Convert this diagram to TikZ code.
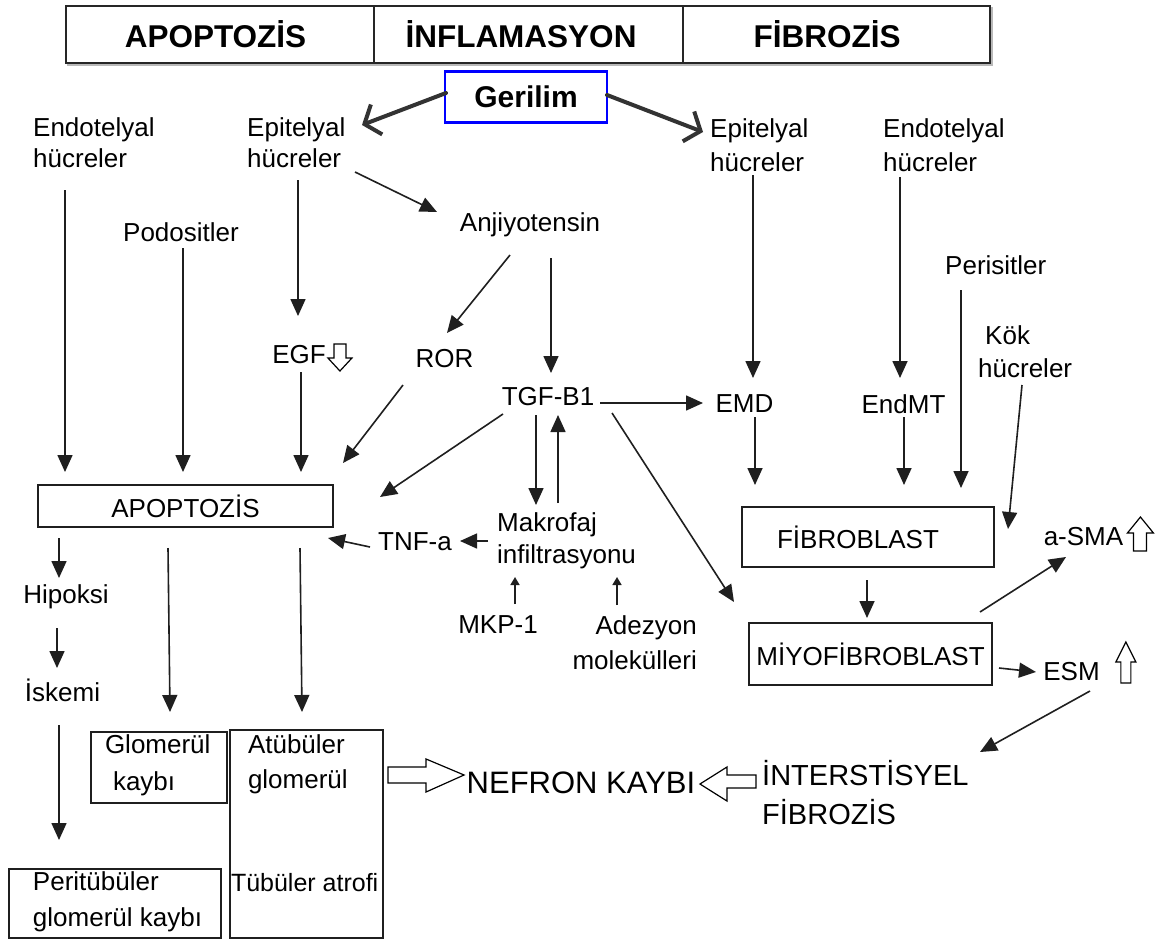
\documentclass[tikz,border=0pt]{standalone}
\usepackage{fontspec}
\setmainfont{Liberation Sans}
\usetikzlibrary{arrows.meta}
\begin{document}
\begin{tikzpicture}[x=1pt,y=-1pt,
  txt/.style={inner sep=0pt, font=\fontsize{26}{31}\selectfont},
  arr/.style={draw=black!88, line width=1.6pt, -{Triangle[length=17pt,width=15pt]}},
  sarr/.style={draw=black!88, line width=1.6pt, -{Triangle[length=8pt,width=9pt]}},
  garr/.style={draw=black!80, line width=4pt, line cap=round, -{Straight Barb[length=13pt,width=32pt,line width=4pt]}},
  hdr/.style={draw=black!85, fill=white, line width=2pt, minimum height=57pt, inner sep=0pt, font=\fontsize{31.5}{36}\selectfont\bfseries},
  box/.style={draw=black!88, line width=1.6pt, inner sep=0pt},
  hol/.style={draw=black, line width=1.2pt, fill=white, line join=miter}
]
\useasboundingbox (0,0) rectangle (1170,943);
\fill[white] (0,0) rectangle (1170,943);

% header
\draw[gray!55, line width=2.5pt] (68,8) rectangle (992,65);
\node[hdr, minimum width=308pt] (hA) at (220,34.5) {\hspace*{-9pt}APOPTOZİS};
\node[hdr, minimum width=309pt] (hI) at (528.5,34.5) {\hspace*{-15pt}İNFLAMASYON};
\node[hdr, minimum width=307pt] (hF) at (836.5,34.5) {\hspace*{-19pt}FİBROZİS};

% Gerilim
\node[draw=blue, line width=2.5pt, minimum width=162pt, minimum height=51pt, inner sep=0pt,
      font=\fontsize{30}{34}\selectfont\bfseries] (gerilim) at (526,97) {Gerilim};

% left side text nodes
\node[txt, anchor=west, align=left] (endoL) at (33,142.5) {Endotelyal\\hücreler};
\node[txt, anchor=west, align=left] (epiL) at (247,142.5) {Epitelyal\\hücreler};
\node[txt] (podo) at (181,232) {Podositler};
\node[txt] (egf) at (299,355) {EGF};
\node[txt] (anj) at (530,225) {Anjiyotensin};
\node[txt] (ror) at (444.5,359) {ROR};
\node[txt] (tgf) at (548,397) {TGF-B1};
\node[txt, anchor=west, align=left, font=\fontsize{26}{32}\selectfont] (mak) at (497,541) {Makrofaj\\infiltrasyonu};
\node[txt] (tnf) at (415,542) {TNF-a};
\node[txt] (mkp) at (498,625) {MKP-1};
\node[txt, anchor=east, align=right, font=\fontsize{26}{35}\selectfont] (adez) at (697,643) {Adezyon\\molekülleri};

\node[box, txt, minimum width=295pt, minimum height=42pt] (apop) at (185.5,506) {APOPTOZİS};
\node[txt] (hip) at (66,597) {Hipoksi};
\node[txt] (isk) at (62.5,690) {İskemi};

\node[box] (glom) at (159,767.5) {\begin{minipage}[c][71pt][t]{136pt}\fontsize{26}{37}\selectfont\vspace*{3pt}\hspace*{14pt}Glomerül\\\hspace*{22pt}kaybı\end{minipage}};
\node[box] (atub) at (306.5,834) {\begin{minipage}[c][208pt][t]{153pt}\fontsize{26}{35}\selectfont\vspace*{5pt}\hspace*{18pt}Atübüler\\\hspace*{18pt}glomerül\\[68pt]\fontsize{25}{35}\selectfont\hspace*{1pt}Tübüler atrofi\end{minipage}};
\node[box] (peri) at (115,903.5) {\begin{minipage}[c][69pt][t]{212pt}\fontsize{26}{36}\selectfont\vspace*{3pt}\hspace*{24pt}Peritübüler\\\hspace*{24pt}glomerül kaybı\end{minipage}};

% right side
\node[txt, anchor=west, align=left, font=\fontsize{26}{34}\selectfont] (epiR) at (710,145) {Epitelyal\\hücreler};
\node[txt, anchor=west, align=left, font=\fontsize{26}{34}\selectfont] (endoR) at (883,145) {Endotelyal\\hücreler};
\node[txt, anchor=west] (perisit) at (945,265) {Perisitler};
\node[txt, anchor=west, align=left, font=\fontsize{26}{33}\selectfont] (kok) at (978,351.5) {\hspace*{7pt}Kök\\hücreler};
\node[txt] (emd) at (744.5,404) {EMD};
\node[txt] (endmt) at (903.5,404) {EndMT};
\node[box, txt, minimum width=252pt, minimum height=60pt] (fib) at (868,537) {\hspace*{-20pt}FİBROBLAST};
\node[box, txt, minimum width=243pt, minimum height=62pt] (miyo) at (870.5,654) {MİYOFİBROBLAST};
\node[txt] (asma) at (1083.5,537) {a-SMA};
\node[txt] (esm) at (1071.5,672) {ESM};
\node[txt, anchor=west, align=left, font=\fontsize{29}{39}\selectfont] (inter) at (762,792.5) {İNTERSTİSYEL\\FİBROZİS};
\node[txt, font=\fontsize{31}{36}\selectfont] (nefron) at (581,783) {NEFRON KAYBI};

% hollow small arrows
\begin{scope}[shift={(egf.east)}]
\draw[hol] (8,-11) -- (20,-11) -- (20,3) -- (26,3) -- (14,16) -- (2,3) -- (8,3) -- cycle;
\end{scope}
\begin{scope}[shift={(asma.east)}]
\draw[hol] (10,14) -- (10,-4) -- (4,-4) -- (17,-20) -- (30,-4) -- (23,-4) -- (23,14) -- cycle;
\end{scope}
\begin{scope}[shift={(esm.east)}]
\draw[hol] (21,11) -- (21,-10) -- (16,-10) -- (26,-30) -- (36,-10) -- (31,-10) -- (31,11) -- cycle;
\end{scope}
% hollow block arrows to NEFRON KAYBI
\begin{scope}[shift={(nefron.west)}]
\draw[hol] (-78.5,-16) -- (-40.5,-16) -- (-40.5,-24) -- (-2.5,-8) -- (-40.5,9) -- (-40.5,0) -- (-78.5,0) -- cycle;
\end{scope}
\begin{scope}[shift={(nefron.east)}]
\draw[hol] (4.5,1) -- (31.5,-16) -- (31.5,-8) -- (60.5,-8) -- (60.5,5) -- (31.5,5) -- (31.5,18) -- cycle;
\end{scope}

% Gerilim arrows
\draw[garr] ([shift={(-80,-4)}]gerilim.center) -- ([shift={(115,-17.5)}]epiL.west);
\draw[garr] ([shift={(81,-2)}]gerilim.center) -- ([shift={(-7,-13)}]epiR.west);

% connectors left
\draw[arr] ([shift={(32,47.5)}]endoL.west) -- ([shift={(-120.5,-34)}]apop.center);
\draw[arr] ([shift={(2,16)}]podo.center) -- ([shift={(-2.5,-34)}]apop.center);
\draw[arr] ([shift={(51,37.5)}]epiL.west) -- ([shift={(-1,-39)}]egf.center);
\draw[arr] ([shift={(2,17)}]egf.center) -- ([shift={(115.5,-34)}]apop.center);
\draw[arr] ([shift={(108,29.5)}]epiL.west) -- ([shift={(-93,-13)}]anj.center);
\draw[arr] ([shift={(-20,30)}]anj.center) -- ([shift={(2.5,-26)}]ror.center);
\draw[arr] ([shift={(21,33)}]anj.center) -- ([shift={(3,-24)}]tgf.center);
\draw[arr] ([shift={(-41.5,26)}]ror.center) -- ([shift={(157.5,-43)}]apop.center);
\draw[arr] ([shift={(-45,17)}]tgf.center) -- ([shift={(194.5,-9)}]apop.center);
\draw[arr] ([shift={(-12,18)}]tgf.center) -- ([shift={(39,-36)}]mak.west);
\draw[arr] ([shift={(61,-38)}]mak.west) -- ([shift={(10,18)}]tgf.center);
\draw[arr] ([shift={(-9,0)}]mak.west) -- ([shift={(45,-1)}]tnf.center);
\draw[arr] ([shift={(-45,5)}]tnf.center) -- ([shift={(142.5,32)}]apop.center);
\draw[sarr] ([shift={(17,-21)}]mkp.center) -- ([shift={(18,36)}]mak.west);
\draw[sarr] ([shift={(-80,-38)}]adez.east) -- ([shift={(120,36)}]mak.west);
\draw[arr] ([shift={(52,6)}]tgf.center) -- ([shift={(-41.5,-1)}]emd.center);
\draw[arr] ([shift={(64,16)}]tgf.center) -- ([shift={(-136.5,-52)}]miyo.center);

% connectors right
\draw[arr] ([shift={(43,30)}]epiR.west) -- ([shift={(8.5,-26)}]emd.center);
\draw[arr] ([shift={(17,32)}]endoR.west) -- ([shift={(-3.5,-26)}]endmt.center);
\draw[arr] ([shift={(10.5,13)}]emd.center) -- ([shift={(-113,-52)}]fib.center);
\draw[arr] ([shift={(0.5,13)}]endmt.center) -- ([shift={(36,-52)}]fib.center);
\draw[arr] ([shift={(16,25)}]perisit.west) -- ([shift={(93,-49)}]fib.center);
\draw[arr] ([shift={(44,33.5)}]kok.west) -- ([shift={(140,-8)}]fib.center);
\draw[arr] ([shift={(-1,43)}]fib.center) -- ([shift={(-3.5,-36)}]miyo.center);
\draw[arr] ([shift={(109.5,-42)}]miyo.center) -- ([shift={(-17.5,20)}]asma.center);
\draw[arr] ([shift={(128.5,14)}]miyo.center) -- ([shift={(-35.5,0)}]esm.center);
\draw[arr] ([shift={(18.5,19)}]esm.center) -- ([shift={(218,-40.5)}]inter.west);

% connectors bottom left
\draw[arr] ([shift={(-126.5,32)}]apop.center) -- ([shift={(-7,-19)}]hip.center);
\draw[arr] ([shift={(-9,31)}]hip.center) -- ([shift={(-5.5,-22)}]isk.center);
\draw[arr] ([shift={(-3.5,35)}]isk.center) -- ([shift={(-56,-63.5)}]peri.center);
\draw[arr] ([shift={(-17.5,42)}]apop.center) -- ([shift={(11,-55.5)}]glom.center);
\draw[arr] ([shift={(114.5,42)}]apop.center) -- ([shift={(-4.5,-122)}]atub.center);
\end{tikzpicture}
\end{document}
